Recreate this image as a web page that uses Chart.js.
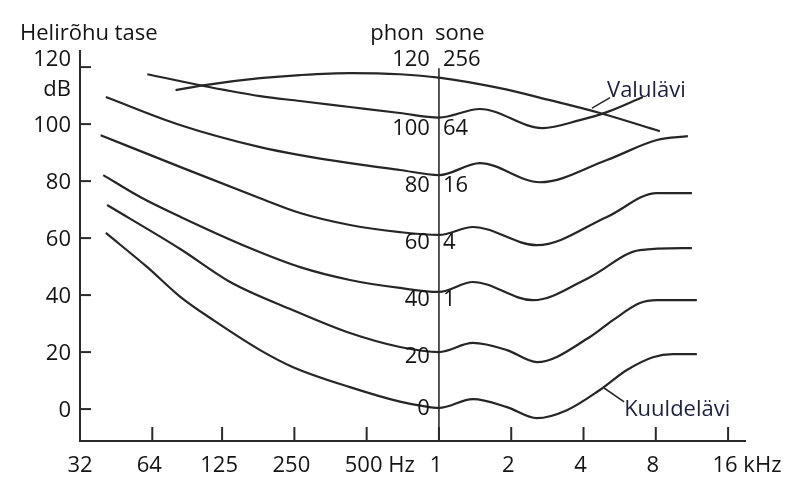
<!DOCTYPE html>
<html>
<head>
<meta charset="utf-8">
<script src="https://cdn.jsdelivr.net/npm/chart.js@4"></script>
<style>
  body { margin: 0; background: #fff; }
  #wrap { width: 800px; height: 496px; }
</style>
</head>
<body>
<div id="wrap"><canvas id="chart" width="800" height="496"></canvas></div>
<script>
// tick values and labels
const xTicks = [32, 64, 125, 250, 500, 1000, 2000, 4000, 8000, 16000];
const xLabels = ['32', '64', '125', '250', '500', '1', '2', '4', '8', '16'];
const xUnits = ['', '', '', '', 'Hz', '', '', '', '', 'kHz'];
const yTicks = [0, 20, 40, 60, 80, 100, 120];
const phonLabels = [120, 100, 80, 60, 40, 20, 0];
const soneLabels = ['256', '64', '16', '4', '1', '', ''];

// curves: frequency (Hz) and level (dB)
const hzPain = [80, 106, 180, 264, 426, 688, 1000, 1794, 2896, 4681, 8320];
const dbPain = [111.9, 113.7, 116.1, 117.2, 117.9, 117.5, 116.3, 112.6, 108.4, 103.9, 97.5];

const hz100 = [61, 106, 180, 264, 426, 688, 1000, 1481, 2700, 3863, 5005, 7068];
const db100 = [117.5, 113.3, 109.8, 108.1, 106.0, 103.9, 102.3, 105.3, 98.6, 101.4, 104.2, 109.5];

const hz80 = [41, 84, 180, 264, 426, 688, 1000, 1481, 2633, 5005, 8083, 10880];
const db80 = [109.5, 99.6, 91.9, 89.1, 86.3, 83.9, 82.1, 86.3, 79.6, 87.4, 94.4, 95.8];

const hz60 = [39, 84, 180, 264, 426, 688, 1000, 1385, 2558, 5005, 8083, 11310];
const db60 = [96.1, 84.9, 74.0, 68.8, 64.6, 62.1, 61.1, 63.9, 57.5, 67.4, 75.8, 75.8];

const hz40 = [40, 57, 84, 163, 264, 426, 688, 1000, 1385, 2462, 4253, 6870, 11310];
const db40 = [82.1, 74.4, 67.4, 56.5, 49.8, 45.3, 42.5, 41.1, 44.6, 38.2, 46.3, 55.8, 56.5];

const hz20 = [41.5, 84, 135, 247, 426, 688, 1000, 1385, 1919, 2558, 4253, 5302, 6870, 8083, 11860];
const db20 = [71.6, 56.1, 44.6, 34.7, 26.7, 21.8, 20.0, 23.2, 20.7, 16.5, 25.3, 31.2, 37.2, 38.2, 38.2];

const hz0 = [41, 61, 84, 115, 180, 247, 426, 688, 850, 1000, 1385, 1919, 2558, 3411, 4681, 6064, 7780, 9424, 11860];
const db0 = [61.8, 49.8, 39.3, 31.2, 20.7, 14.7, 7.7, 2.6, 1.1, 0.4, 3.5, 0.7, -3.2, -0.4, 6.7, 13.7, 18.2, 19.3, 19.3];

const curves = [
  [hzPain, dbPain], [hz100, db100], [hz80, db80], [hz60, db60],
  [hz40, db40], [hz20, db20], [hz0, db0]
];

const FONT = '22px "Open Sans"';
const INK = '#141414';
const NAVY = '#1b2040';

const axesPlugin = {
  id: 'axes',
  afterDraw(chart) {
    const { ctx, chartArea: a } = chart;
    const xs = chart.scales.x, ys = chart.scales.y;
    const x0 = xs.getPixelForValue(32);
    ctx.save();
    ctx.strokeStyle = '#2a2a2a';
    ctx.lineWidth = 2;
    // axis lines
    ctx.beginPath();
    ctx.moveTo(x0, a.top);
    ctx.lineTo(x0, a.bottom);
    ctx.lineTo(a.right, a.bottom);
    ctx.stroke();
    // y ticks (inside)
    yTicks.forEach(v => {
      const y = ys.getPixelForValue(v);
      ctx.beginPath();
      ctx.moveTo(x0, y);
      ctx.lineTo(x0 + 11, y);
      ctx.stroke();
    });
    // x ticks (inside)
    xTicks.slice(1).forEach(f => {
      const x = xs.getPixelForValue(f);
      ctx.beginPath();
      ctx.moveTo(x, a.bottom);
      ctx.lineTo(x, a.bottom - 14);
      ctx.stroke();
    });
    // 1 kHz line
    ctx.lineWidth = 1.6;
    const xk = xs.getPixelForValue(1000);
    ctx.beginPath();
    ctx.moveTo(xk, ys.getPixelForValue(119.6));
    ctx.lineTo(xk, a.bottom);
    ctx.stroke();

    ctx.font = FONT;
    ctx.fillStyle = INK;
    ctx.textBaseline = 'middle';
    // y labels
    ctx.textAlign = 'right';
    yTicks.forEach(v => {
      const y = ys.getPixelForValue(v) + (v === 120 ? -7 : 2);
      ctx.fillText(String(v), x0 - 9, y);
    });
    ctx.fillText('dB', x0 - 9, ys.getPixelForValue(112));
    // x labels
    xTicks.forEach((f, i) => {
      const x = xs.getPixelForValue(f) - (i ? 3 : 0);
      const y = a.bottom + 25;
      ctx.textAlign = 'center';
      ctx.fillText(xLabels[i], x, y);
      if (xUnits[i]) {
        const w = ctx.measureText(xLabels[i]).width;
        ctx.textAlign = 'left';
        ctx.fillText(' ' + xUnits[i], x + w / 2, y);
      }
    });
    // phon / sone labels at 1 kHz
    phonLabels.forEach((p, i) => {
      const y = ys.getPixelForValue(p === 120 ? 122.5 : Math.max(p - 1.8, 0));
      ctx.textAlign = 'right';
      ctx.fillText(String(p), xk - 9, y);
      ctx.textAlign = 'left';
      ctx.fillText(soneLabels[i], xk + 4, y);
    });
    // headers
    ctx.textBaseline = 'alphabetic';
    ctx.textAlign = 'left';
    ctx.fillText('Helirõhu tase', 20, 40);
    ctx.textAlign = 'right';
    ctx.fillText('phon', xk - 15, 40);
    ctx.textAlign = 'left';
    ctx.fillText('sone', xk - 4, 40);

    // annotations
    ctx.fillStyle = NAVY;
    ctx.fillText('Valulävi', xs.getPixelForValue(5012), ys.getPixelForValue(109.5));
    ctx.fillText('Kuuldelävi', xs.getPixelForValue(5905), ys.getPixelForValue(-2.5));
    ctx.strokeStyle = '#2a2a2a';
    ctx.lineWidth = 1.6;
    ctx.beginPath();
    ctx.moveTo(xs.getPixelForValue(4340), ys.getPixelForValue(105.6));
    ctx.lineTo(xs.getPixelForValue(5161), ys.getPixelForValue(109.3));
    ctx.moveTo(xs.getPixelForValue(4871), ys.getPixelForValue(7.4));
    ctx.lineTo(xs.getPixelForValue(5905), ys.getPixelForValue(2.5));
    ctx.stroke();
    ctx.restore();
  }
};

new Chart(document.getElementById('chart'), {
  type: 'line',
  data: {
    datasets: curves.map(([hz, db]) => ({
      data: hz.map((f, i) => ({ x: f, y: db[i] })),
      borderColor: '#262626',
      borderWidth: 2.2,
      pointRadius: 0,
      fill: false,
      cubicInterpolationMode: 'monotone'
    }))
  },
  options: {
    responsive: false,
    animation: false,
    layout: { padding: { left: 80, top: 50, right: 54, bottom: 55 } },
    plugins: { legend: { display: false }, tooltip: { enabled: false } },
    scales: {
      x: { type: 'logarithmic', min: 32, max: 19000, display: false },
      y: { type: 'linear', min: -11.2, max: 126, display: false }
    }
  },
  plugins: [axesPlugin]
});
</script>
</body>
</html>
